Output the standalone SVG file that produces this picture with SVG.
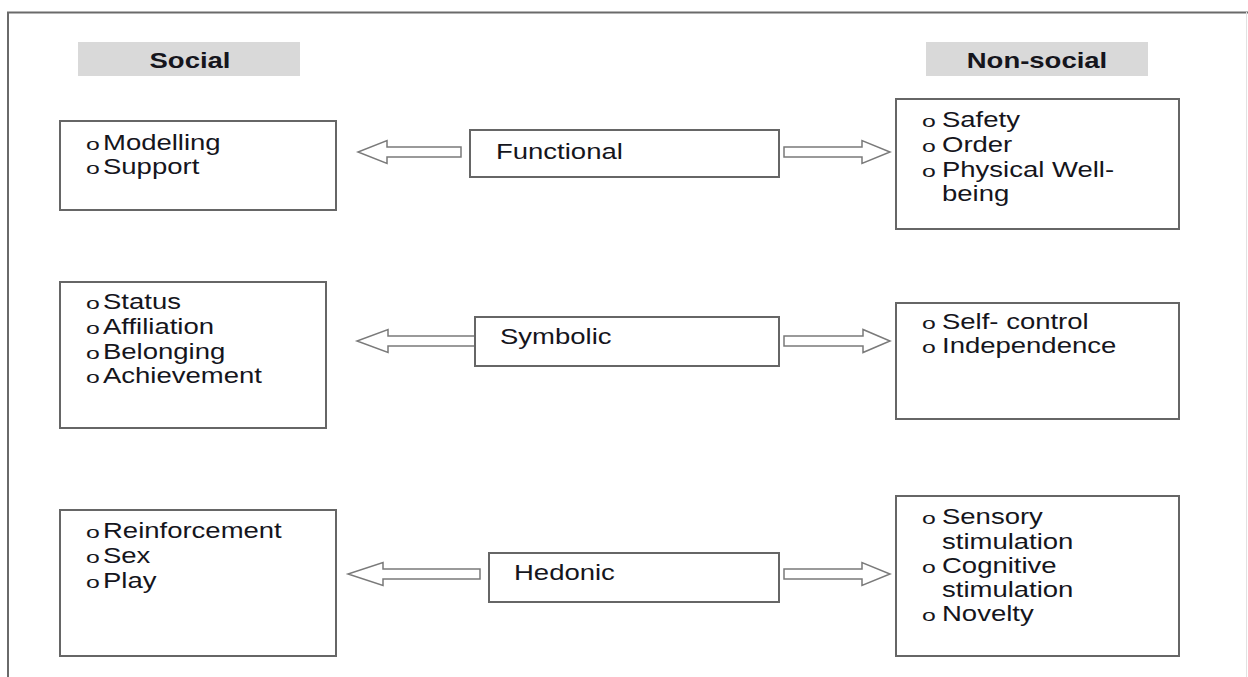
<svg xmlns="http://www.w3.org/2000/svg" width="1248" height="677" viewBox="0 0 1248 677">
  <style>
    text { font-family: "Liberation Sans", Arial, sans-serif; font-size: 22px; fill: #15151c; }
    .hdr { font-weight: bold; text-anchor: middle; }
    .bul { font-size: 16px; }
    .box { fill: #ffffff; stroke: #666666; stroke-width: 2; }
    .band { fill: #d9d9d9; }
    .arrow { fill: #ffffff; stroke: #7a7a7a; stroke-width: 1.5; stroke-linejoin: miter; }
    .frame { fill: none; stroke: #6a6a6a; stroke-width: 2; }
  </style>

  <rect width="1248" height="677" fill="#ffffff"/>

  <!-- outer frame -->
  <g id="frame">
    <path class="frame" d="M8,677 V12.5 H1248"/>
    <line x1="1246.5" y1="12" x2="1246.5" y2="677" stroke="#e2e2e2" stroke-width="1"/>
  </g>

  <!-- column headings -->
  <g id="head-social">
    <rect class="band" x="78" y="42" width="222" height="34"/>
    <g transform="translate(190 0) scale(1.25 1)"><text class="hdr" x="0" y="68">Social</text></g>
  </g>
  <g id="head-nonsocial">
    <rect class="band" x="926" y="42" width="222" height="34"/>
    <g transform="translate(1037 0) scale(1.25 1)"><text class="hdr" x="0" y="68">Non-social</text></g>
  </g>

  <!-- connectors: block arrows from each centre box -->
  <g id="connectors">
    <polygon class="arrow" points="461,147 387,147 387,140.5 358,152 387,163.5 387,157 461,157"/>
    <polygon class="arrow" points="784,147 862,147 862,140.5 890,152 862,163.5 862,157 784,157"/>
    <polygon class="arrow" points="475,336 388,336 388,329.5 357,341 388,352.5 388,346 475,346"/>
    <polygon class="arrow" points="784,336 863,336 863,329.5 890,341 863,352.5 863,346 784,346"/>
    <polygon class="arrow" points="480,569 383,569 383,562.5 348,574 383,585.5 383,579 480,579"/>
    <polygon class="arrow" points="784,569 862,569 862,562.5 890,574 862,585.5 862,579 784,579"/>
  </g>

  <!-- centre boxes -->
  <g id="functional">
    <rect class="box" x="470" y="130" width="309" height="47"/>
    <g transform="translate(496 0) scale(1.25 1)"><text x="0" y="159">Functional</text></g>
  </g>
  <g id="symbolic">
    <rect class="box" x="475" y="317" width="304" height="49"/>
    <g transform="translate(500 0) scale(1.25 1)"><text x="0" y="344">Symbolic</text></g>
  </g>
  <g id="hedonic">
    <rect class="box" x="489" y="553" width="290" height="49"/>
    <g transform="translate(514 0) scale(1.25 1)"><text x="0" y="580">Hedonic</text></g>
  </g>

  <!-- social boxes -->
  <g id="social-functional">
    <rect class="box" x="60" y="121" width="276" height="89"/>
    <g transform="translate(86 0) scale(1.55 1)">
      <text class="bul" x="0" y="150">o</text>
      <text class="bul" x="0" y="174">o</text>
    </g>
    <g transform="translate(103 0) scale(1.25 1)">
      <text x="0" y="150">Modelling</text>
      <text x="0" y="174">Support</text>
    </g>
  </g>
  <g id="social-symbolic">
    <rect class="box" x="60" y="282" width="266" height="146"/>
    <g transform="translate(86 0) scale(1.55 1)">
      <text class="bul" x="0" y="309">o</text>
      <text class="bul" x="0" y="334">o</text>
      <text class="bul" x="0" y="359">o</text>
      <text class="bul" x="0" y="383">o</text>
    </g>
    <g transform="translate(103 0) scale(1.25 1)">
      <text x="0" y="309">Status</text>
      <text x="0" y="334">Affiliation</text>
      <text x="0" y="359">Belonging</text>
      <text x="0" y="383">Achievement</text>
    </g>
  </g>
  <g id="social-hedonic">
    <rect class="box" x="60" y="510" width="276" height="146"/>
    <g transform="translate(86 0) scale(1.55 1)">
      <text class="bul" x="0" y="538">o</text>
      <text class="bul" x="0" y="563">o</text>
      <text class="bul" x="0" y="588">o</text>
    </g>
    <g transform="translate(103 0) scale(1.25 1)">
      <text x="0" y="538">Reinforcement</text>
      <text x="0" y="563">Sex</text>
      <text x="0" y="588">Play</text>
    </g>
  </g>

  <!-- non-social boxes -->
  <g id="nonsocial-functional">
    <rect class="box" x="896" y="99" width="283" height="130"/>
    <g transform="translate(922 0) scale(1.55 1)">
      <text class="bul" x="0" y="127">o</text>
      <text class="bul" x="0" y="152">o</text>
      <text class="bul" x="0" y="177">o</text>
    </g>
    <g transform="translate(942 0) scale(1.25 1)">
      <text x="0" y="127">Safety</text>
      <text x="0" y="152">Order</text>
      <text x="0" y="177">Physical Well-</text>
      <text x="0" y="201">being</text>
    </g>
  </g>
  <g id="nonsocial-symbolic">
    <rect class="box" x="896" y="303" width="283" height="116"/>
    <g transform="translate(922 0) scale(1.55 1)">
      <text class="bul" x="0" y="329">o</text>
      <text class="bul" x="0" y="353">o</text>
    </g>
    <g transform="translate(942 0) scale(1.25 1)">
      <text x="0" y="329">Self- control</text>
      <text x="0" y="353">Independence</text>
    </g>
  </g>
  <g id="nonsocial-hedonic">
    <rect class="box" x="896" y="496" width="283" height="160"/>
    <g transform="translate(922 0) scale(1.55 1)">
      <text class="bul" x="0" y="524">o</text>
      <text class="bul" x="0" y="573">o</text>
      <text class="bul" x="0" y="621">o</text>
    </g>
    <g transform="translate(942 0) scale(1.25 1)">
      <text x="0" y="524">Sensory</text>
      <text x="0" y="549">stimulation</text>
      <text x="0" y="573">Cognitive</text>
      <text x="0" y="597">stimulation</text>
      <text x="0" y="621">Novelty</text>
    </g>
  </g>
</svg>
